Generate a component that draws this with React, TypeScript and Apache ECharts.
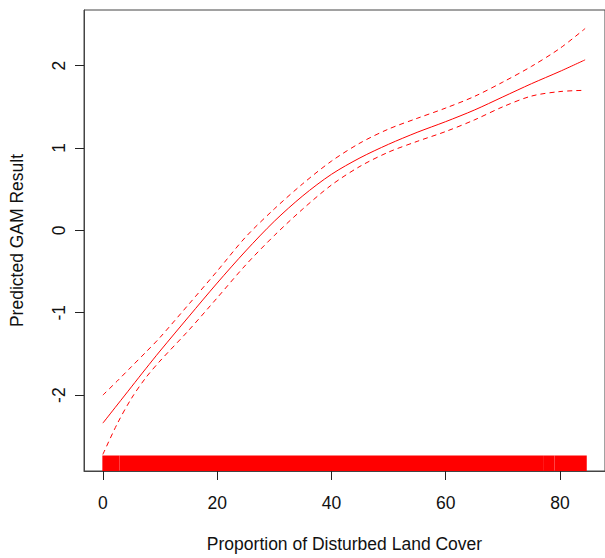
import React, { useEffect, useRef } from "react";
import * as echarts from "echarts";

const xs = [0, 2.5, 5, 7.5, 10, 15, 20, 25, 30, 35, 40, 45, 50, 55, 60, 65, 70, 75, 80, 84.4];
const fit = [-2.34, -2.12, -1.9, -1.68, -1.465, -1.05, -0.64, -0.25, 0.11, 0.42, 0.68, 0.88, 1.045, 1.19, 1.32, 1.46, 1.62, 1.78, 1.93, 2.07];
const upper = [-2.0, -1.83, -1.655, -1.48, -1.3, -0.9, -0.495, -0.08, 0.26, 0.567, 0.84, 1.06, 1.23, 1.36, 1.485, 1.625, 1.8, 1.99, 2.21, 2.45];
const lower = [-2.72, -2.35, -2.04, -1.79, -1.586, -1.215, -0.82, -0.42, -0.063, 0.26, 0.55, 0.777, 0.95, 1.08, 1.2, 1.34, 1.5, 1.63, 1.685, 1.7];
// rug: stretches of observed x values (gaps where no data)
const rugSegments = [
  [0, 2.8],
  [2.98, 77.1],
  [77.28, 78.95],
  [79.13, 84.6],
];
const xTicks = [0, 20, 40, 60, 80];
const yTicks = [-2, -1, 0, 1, 2];

const FONT = "'Liberation Sans', Arial, sans-serif";
const RED = "#ff0000";

export default function App() {
  const ref = useRef<HTMLDivElement>(null);
  useEffect(() => {
    if (!ref.current) return;
    const chart = echarts.init(ref.current, undefined, { renderer: "svg" });
    const pairs = (ys: number[]) => xs.map((x, i) => [x, ys[i]]);
    chart.setOption({
      animation: false,
      backgroundColor: "#ffffff",
      grid: {
        left: 82.7,
        top: 10,
        right: -3.3,
        bottom: 83,
        show: true,
        borderColor: "#444",
        borderWidth: 1,
        backgroundColor: "transparent",
      },
      xAxis: {
        type: "value",
        min: -3.3,
        max: 87.88,
        name: "Proportion of Disturbed Land Cover",
        nameLocation: "middle",
        nameGap: 64,
        nameTextStyle: { fontFamily: FONT, fontSize: 17.5, color: "#111" },
        axisLine: { show: true, onZero: false, lineStyle: { color: "#444", width: 1 } },
        axisTick: { show: true, length: 9, inside: false, customValues: xTicks, lineStyle: { color: "#222", width: 1 } },
        axisLabel: { customValues: xTicks, margin: 23, fontFamily: FONT, fontSize: 17.5, color: "#111" },
        splitLine: { show: false },
      },
      yAxis: {
        type: "value",
        min: -2.921,
        max: 2.675,
        name: "Predicted GAM Result",
        nameLocation: "middle",
        nameRotate: 90,
        nameGap: 58,
        nameTextStyle: { fontFamily: FONT, fontSize: 17.5, color: "#111" },
        axisLine: { show: true, onZero: false, lineStyle: { color: "#444", width: 1 } },
        axisTick: { show: true, length: 9, customValues: yTicks, lineStyle: { color: "#222", width: 1 } },
        axisLabel: { customValues: yTicks, rotate: 90, margin: 16, fontFamily: FONT, fontSize: 17.5, color: "#111" },
        splitLine: { show: false },
      },
      series: [
        {
          type: "custom",
          name: "rug",
          data: rugSegments,
          clip: true,
          renderItem: (params: any, api: any) => {
            const s = api.coord([api.value(0), 0]);
            const e = api.coord([api.value(1), 0]);
            const cs = params.coordSys;
            const bottom = cs.y + cs.height;
            return {
              type: "rect",
              shape: { x: s[0] - 0.5, y: bottom - 15.5, width: e[0] - s[0] + 1, height: 15.5 },
              style: { fill: RED },
            };
          },
          z: 1,
        },
        {
          type: "line",
          data: pairs(fit),
          smooth: 0.3,
          showSymbol: false,
          lineStyle: { color: RED, width: 1 },
          z: 3,
        },
        {
          type: "line",
          data: pairs(upper),
          smooth: 0.3,
          showSymbol: false,
          lineStyle: { color: RED, width: 1, type: [5, 4] },
          z: 3,
        },
        {
          type: "line",
          data: pairs(lower),
          smooth: 0.3,
          showSymbol: false,
          lineStyle: { color: RED, width: 1, type: [5, 4] },
          z: 3,
        },
      ],
    });
    return () => chart.dispose();
  }, []);
  return (
    <div
      ref={ref}
      style={{ position: "fixed", left: 0, top: 0, width: 605, height: 558, background: "#fff" }}
    />
  );
}
